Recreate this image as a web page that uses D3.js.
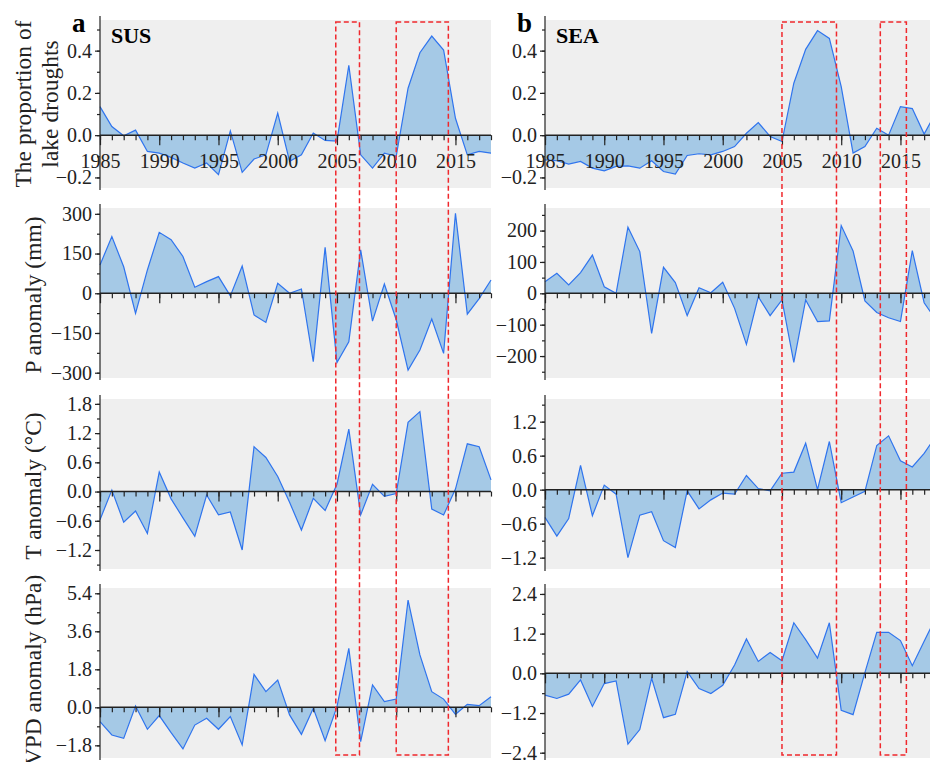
<!DOCTYPE html>
<html>
<head>
<meta charset="utf-8">
<script src="https://cdn.jsdelivr.net/npm/d3@7"></script>
<style>
  body { margin: 0; background: #fff; }
  svg, svg text { font-family: "Liberation Serif", "Times New Roman", serif; }
  .tick text { font-size: 20px; fill: #222; font-family: "Liberation Serif", "Times New Roman", serif; }
  .axis-title { font-size: 23.5px; fill: #222; }
</style>
</head>
<body>
<div id="chart"></div>
<script>
// years of the record
const years = d3.range(1985, 2019);

// proportion of lake droughts
const susDrought = [0.135, 0.041, -0.003, 0.024, -0.077, -0.085, -0.105, -0.132, -0.156, -0.132,
  -0.187, 0.02, -0.176, -0.113, -0.093, 0.104, -0.124, -0.093, 0.01, -0.025,
  -0.028, 0.331, -0.093, -0.156, -0.085, -0.1, 0.222, 0.39, 0.469, 0.403,
  0.08, -0.093, -0.077, -0.085];
const seaDrought = [-0.117, -0.121, -0.137, -0.124, -0.156, -0.169, -0.148, -0.145, -0.156, -0.121,
  -0.172, -0.184, -0.096, -0.088, -0.093, -0.077, -0.054, 0.009, 0.06, -0.006,
  -0.03, 0.246, 0.406, 0.495, 0.458, 0.23, -0.085, -0.054, 0.033, 0.0,
  0.135, 0.126, 0.005, 0.11];

// precipitation anomaly (mm)
const susP = [107, 214, 100, -76, 88, 230, 202, 139, 23, 44,
  63, -10, 103, -82, -110, 38, 0, 16, -258, 174,
  -262, -183, 164, -105, 35, -100, -290, -214, -97, -227,
  302, -79, -20, 50];
const seaP = [37, 64, 27, 66, 122, 21, 0, 211, 133, -128,
  83, 34, -71, 18, 2, 35, -48, -163, -11, -71,
  -21, -220, -21, -90, -88, 216, 135, -24, -61, -78,
  -90, 136, -30, -85];

// temperature anomaly (°C)
const susT = [-0.58, 0.03, -0.63, -0.40, -0.86, 0.40, -0.15, -0.54, -0.92, -0.07,
  -0.48, -0.42, -1.2, 0.92, 0.70, 0.31, -0.22, -0.79, -0.14, -0.39,
  0.15, 1.28, -0.48, 0.15, -0.1, -0.04, 1.42, 1.64, -0.36, -0.48,
  0.05, 0.98, 0.92, 0.24];
const seaT = [-0.49, -0.82, -0.51, 0.43, -0.46, 0.08, -0.08, -1.2, -0.45, -0.39,
  -0.9, -1.02, -0.02, -0.34, -0.18, -0.06, -0.08, 0.25, 0.02, -0.02,
  0.29, 0.31, 0.82, 0.0, 0.85, -0.23, -0.13, -0.03, 0.78, 0.95,
  0.51, 0.40, 0.64, 0.95];

// VPD anomaly (hPa)
const susVPD = [-0.68, -1.31, -1.47, 0.06, -1.04, -0.39, -1.2, -1.97, -0.84, -0.52,
  -1.04, -0.44, -1.78, 1.56, 0.74, 1.29, -0.36, -1.28, -0.05, -1.58,
  0.03, 2.79, -1.63, 1.06, 0.27, 0.39, 5.08, 2.48, 0.74, 0.39,
  -0.33, 0.14, 0.08, 0.5];
const seaVPD = [-0.66, -0.76, -0.63, -0.2, -1.0, -0.31, -0.23, -2.14, -1.7, -0.15,
  -1.34, -1.24, 0.05, -0.46, -0.61, -0.36, 0.25, 1.04, 0.36, 0.63,
  0.38, 1.53, 1.02, 0.46, 1.53, -1.12, -1.25, 0.02, 1.24, 1.24,
  0.99, 0.23, 0.97, 1.7];

// tick labels
const yearTicks = [1985, 1990, 1995, 2000, 2005, 2010, 2015];
const droughtTicks = [-0.2, 0, 0.2, 0.4];
const susPTicks = [-300, -150, 0, 150, 300];
const seaPTicks = [-200, -100, 0, 100, 200];
const susTTicks = [-1.2, -0.6, 0, 0.6, 1.2, 1.8];
const seaTTicks = [-1.2, -0.6, 0, 0.6, 1.2];
const susVPDTicks = [-1.8, 0, 1.8, 3.6, 5.4];
const seaVPDTicks = [-2.4, -1.2, 0, 1.2, 2.4];

// highlighted drought periods (year ranges of the dashed boxes)
const susBoxes = [[2004.9, 2006.9], [2010.0, 2014.4]];
const seaBoxes = [[2005.0, 2009.6], [2013.3, 2015.5]];

const width = 930, height = 762;
const colX = [100, 545];
const panelW = 391;
const rowTop = [20, 208, 399, 588];
const rowBottom = [188, 378, 569, 758];

const svg = d3.select('#chart').append('svg')
  .attr('width', width)
  .attr('height', height);

const cols = [
  {
    letter: 'a', name: 'SUS', boxes: susBoxes,
    rows: [
      { values: susDrought, domain: [-0.25, 0.545], ticks: droughtTicks, minor: 0.1, fmt: '.1f' },
      { values: susP, domain: [-320, 322], ticks: susPTicks, minor: 75, fmt: 'd' },
      { values: susT, domain: [-1.59, 1.9], ticks: susTTicks, minor: 0.3, fmt: '.1f' },
      { values: susVPD, domain: [-2.4, 5.65], ticks: susVPDTicks, minor: 0.9, fmt: '.1f' }
    ]
  },
  {
    letter: 'b', name: 'SEA', boxes: seaBoxes,
    rows: [
      { values: seaDrought, domain: [-0.25, 0.545], ticks: droughtTicks, minor: 0.1, fmt: '.1f' },
      { values: seaP, domain: [-270, 272], ticks: seaPTicks, minor: 50, fmt: 'd' },
      { values: seaT, domain: [-1.4, 1.6], ticks: seaTTicks, minor: 0.3, fmt: '.1f' },
      { values: seaVPD, domain: [-2.56, 2.58], ticks: seaVPDTicks, minor: 0.6, fmt: '.1f' }
    ]
  }
];

cols.forEach((col, ci) => {
  const x = d3.scaleLinear().domain([1985, 2018]).range([colX[ci], colX[ci] + panelW]);

  col.rows.forEach((row, ri) => {
    const y = d3.scaleLinear().domain(row.domain).range([rowBottom[ri], rowTop[ri]]);
    const g = svg.append('g');

    g.append('rect')
      .attr('x', colX[ci])
      .attr('y', rowTop[ri])
      .attr('width', panelW)
      .attr('height', rowBottom[ri] - rowTop[ri])
      .attr('fill', '#efefef');

    const area = d3.area()
      .x((d, i) => x(years[i]))
      .y0(y(0))
      .y1(d => y(d));
    const line = d3.line()
      .x((d, i) => x(years[i]))
      .y(d => y(d));

    g.append('path')
      .datum(row.values)
      .attr('d', area)
      .attr('fill', '#a5c9e6');
    g.append('path')
      .datum(row.values)
      .attr('d', line)
      .attr('fill', 'none')
      .attr('stroke', '#2f74ee')
      .attr('stroke-width', 1.2);

    // y axis: major + minor ticks
    const minorVals = d3.range(Math.ceil(row.domain[0] / row.minor - 1e-6), Math.floor(row.domain[1] / row.minor + 1e-6) + 1)
      .map(k => k * row.minor);
    const yMinor = g.append('g')
      .attr('transform', `translate(${colX[ci]},0)`)
      .call(d3.axisLeft(y).tickValues(minorVals).tickSize(3).tickFormat(''));
    yMinor.select('.domain').remove();
    const yAxis = g.append('g')
      .attr('transform', `translate(${colX[ci]},0)`)
      .call(d3.axisLeft(y).tickValues(row.ticks).tickSize(5).tickPadding(3).tickFormat(d3.format(row.fmt)));
    yAxis.select('.domain').remove();
    g.append('line')
      .attr('x1', colX[ci]).attr('x2', colX[ci])
      .attr('y1', rowTop[ri] - 4).attr('y2', rowBottom[ri] + 2)
      .attr('stroke', '#222').attr('stroke-width', 1.2);

    // x axis along the zero line
    const xMinor = g.append('g')
      .attr('transform', `translate(0,${y(0)})`)
      .call(d3.axisBottom(x).tickValues(years).tickSize(5).tickFormat(''));
    xMinor.select('.domain').remove();
    const xAxis = g.append('g')
      .attr('transform', `translate(0,${y(0)})`)
      .call(d3.axisBottom(x).tickValues(yearTicks).tickSize(10).tickPadding(9)
        .tickFormat(ri === 0 ? d3.format('d') : ''));
    xAxis.select('.domain').remove();
    g.append('line')
      .attr('x1', colX[ci]).attr('x2', colX[ci] + panelW)
      .attr('y1', y(0)).attr('y2', y(0))
      .attr('stroke', '#222').attr('stroke-width', 1.5);
    g.selectAll('.tick line').attr('stroke', '#222').attr('stroke-width', 1.2);
  });

  // dashed highlight boxes
  svg.selectAll(null)
    .data(col.boxes)
    .join('rect')
    .attr('x', d => x(d[0]))
    .attr('y', 22)
    .attr('width', d => x(d[1]) - x(d[0]))
    .attr('height', 733)
    .attr('fill', 'none')
    .attr('stroke', '#f0282d')
    .attr('stroke-width', 1.5)
    .attr('stroke-dasharray', '5,3');

  svg.append('text')
    .attr('x', colX[ci] - 28)
    .attr('y', 32)
    .attr('font-size', 27)
    .attr('font-weight', 'bold')
    .text(col.letter);
  svg.append('text')
    .attr('x', colX[ci] + 11)
    .attr('y', 43)
    .attr('font-size', 22)
    .attr('font-weight', 'bold')
    .text(col.name);
});

// y axis titles
const titles = [
  { lines: ['The proportion of', 'lake droughts'], xs: [31, 58], ri: 0, dy: 0 },
  { lines: ['P anomaly (mm)'], xs: [41], ri: 1, dy: 2 },
  { lines: ['T anomaly (°C)'], xs: [41], ri: 2, dy: 2 },
  { lines: ['VPD anomaly (hPa)'], xs: [41], ri: 3, dy: -3 }
];
titles.forEach(t => {
  const cy = (rowTop[t.ri] + rowBottom[t.ri]) / 2 + t.dy;
  t.lines.forEach((txt, i) => {
    svg.append('text')
      .attr('class', 'axis-title')
      .attr('transform', `translate(${t.xs[i]},${cy}) rotate(-90)`)
      .attr('text-anchor', 'middle')
      .text(txt);
  });
});
</script>
</body>
</html>
